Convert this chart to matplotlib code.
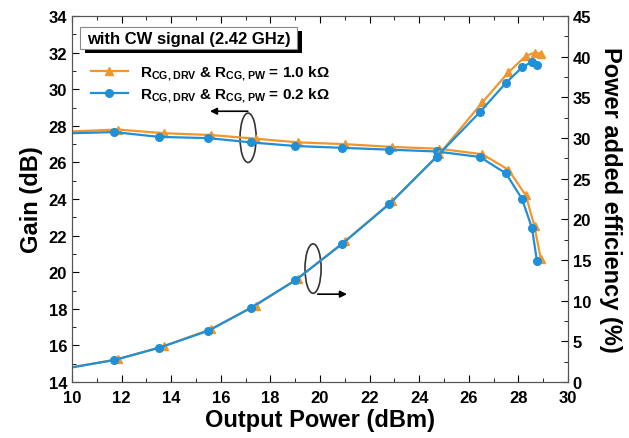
import matplotlib.pyplot as plt
from matplotlib.patches import Ellipse, Rectangle

plt.rcParams['font.family'] = ['Liberation Sans', 'DejaVu Sans']
plt.rcParams['font.weight'] = 'bold'
plt.rcParams['mathtext.default'] = 'regular'

# output power (dBm) at measured points, first point is line start only
pout_02 = [10.0, 11.7, 13.5, 15.5, 17.2, 19.0, 20.9, 22.8, 24.7, 26.45, 27.5, 28.15, 28.55, 28.75]
pout_10 = [10.0, 11.85, 13.7, 15.6, 17.4, 19.1, 21.0, 22.9, 24.8, 26.55, 27.6, 28.3, 28.65, 28.9]

gain_02 = [27.6, 27.66, 27.4, 27.33, 27.1, 26.9, 26.8, 26.7, 26.6, 26.3, 25.4, 24.0, 22.4, 20.6]
gain_10 = [27.7, 27.8, 27.6, 27.5, 27.3, 27.1, 27.0, 26.85, 26.75, 26.45, 25.6, 24.2, 22.5, 20.75]

pae_02 = [1.8, 2.7, 4.2, 6.3, 9.1, 12.5, 17.0, 21.9, 27.7, 33.2, 36.8, 38.7, 39.4, 39.0]
pae_10 = [1.8, 2.8, 4.4, 6.5, 9.4, 12.7, 17.3, 22.2, 28.0, 34.4, 38.1, 40.1, 40.5, 40.4]

orange = '#F0962D'
blue = '#1F8FD6'

fig = plt.figure(figsize=(6.29, 4.39), dpi=100)
ax = fig.add_axes([0.1145, 0.1276, 0.7885, 0.8334])
ax2 = ax.twinx()

ax.plot(pout_10, gain_10, color=orange, lw=1.6, marker='^', ms=5.5, markevery=range(1, len(pout_10)),
        label=r'R$_{\mathregular{CG,DRV}}$ & R$_{\mathregular{CG,PW}}$ = 1.0 k$\Omega$')
ax.plot(pout_02, gain_02, color=blue, lw=1.6, marker='o', ms=5.5, markevery=range(1, len(pout_02)),
        label=r'R$_{\mathregular{CG,DRV}}$ & R$_{\mathregular{CG,PW}}$ = 0.2 k$\Omega$')
ax2.plot(pout_10, pae_10, color=orange, lw=1.6, marker='^', ms=5.5, markevery=range(1, len(pout_10)))
ax2.plot(pout_02, pae_02, color=blue, lw=1.6, marker='o', ms=5.5, markevery=range(1, len(pout_02)))

ax.set_xlim(10, 30)
ax.set_ylim(14, 34)
ax2.set_ylim(0, 45)
ax.set_xticks(range(10, 31, 2))
ax.set_xticks(range(11, 30, 2), minor=True)
ax.set_yticks(range(14, 35, 2))
ax.set_yticks(range(15, 34, 2), minor=True)
ax2.set_yticks(range(0, 46, 5))
ax2.set_yticks([2.5 + 5 * i for i in range(9)], minor=True)

ax.tick_params(which='both', direction='in', top=True, labelsize=12)
ax.tick_params(axis='x', pad=6)
ax.tick_params(which='major', length=5)
ax.tick_params(which='minor', length=3)
ax2.tick_params(which='both', direction='in', labelsize=12)
ax2.tick_params(which='major', length=5)
ax2.tick_params(which='minor', length=3)
for a in (ax, ax2):
    for s in a.spines.values():
        s.set_color('#555555')

ax.set_xlabel('Output Power (dBm)', fontsize=17, fontweight='bold', labelpad=2)
ax.set_ylabel('Gain (dB)', fontsize=17, fontweight='bold')
ax2.set_ylabel('Power added efficiency (%)', fontsize=17, fontweight='bold', rotation=270, labelpad=22)

# title box with shadow
ax.add_patch(Rectangle((0.026, 0.898), 0.438, 0.06, transform=ax.transAxes,
                       fc='black', ec='none', zorder=4))
ax.add_patch(Rectangle((0.016, 0.910), 0.438, 0.06, transform=ax.transAxes,
                       fc='white', ec='#888888', lw=0.8, zorder=5))
ax.text(0.235, 0.940, 'with CW signal (2.42 GHz)', transform=ax.transAxes, fontsize=12,
        fontweight='bold', va='center', ha='center', zorder=6)

leg = ax.legend(loc='upper left', bbox_to_anchor=(0.02, 0.895), frameon=False, fontsize=11,
                handlelength=2.4, borderaxespad=0.2, labelspacing=0.25)

# ellipse annotations
ax.add_patch(Ellipse((17.1, 27.35), 0.65, 2.7, fill=False, ec='#333333', lw=1.2))
ax.annotate('', xy=(15.45, 28.8), xytext=(17.2, 28.8),
            arrowprops=dict(arrowstyle='-|>', color='black', lw=1.2))
ax.add_patch(Ellipse((19.72, 20.2), 0.65, 2.7, fill=False, ec='#333333', lw=1.2))
ax.annotate('', xy=(21.2, 18.8), xytext=(19.8, 18.8),
            arrowprops=dict(arrowstyle='-|>', color='black', lw=1.2))

fig.savefig('out.png', dpi=100)
